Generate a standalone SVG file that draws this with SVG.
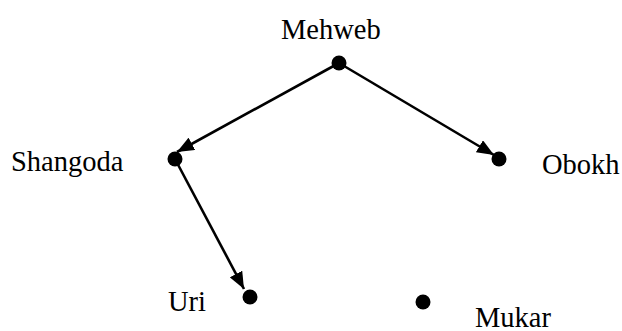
<svg xmlns="http://www.w3.org/2000/svg" width="622" height="331" viewBox="0 0 622 331">
<style>
text{font-family:"Liberation Serif","Times New Roman",serif;font-size:28.5px;fill:#000}
.dot{fill:#000}
.edge{stroke:#000;stroke-width:2.6;fill:none}
</style>
<defs>
<marker id="arr" markerUnits="userSpaceOnUse" markerWidth="18" markerHeight="14" refX="17" refY="7" orient="auto">
<path d="M0,0 L17,7 L0,14 z" fill="#000"/>
</marker>
</defs>
<rect width="622" height="331" fill="#fff"/>
<g id="connectors">
<path class="edge" d="M339,63 L177,152" marker-end="url(#arr)"/>
<path class="edge" d="M339,63 L494,155" marker-end="url(#arr)"/>
<path class="edge" d="M175,159 L244,289" marker-end="url(#arr)"/>
</g>
<g id="mehweb"><circle class="dot" cx="339" cy="63" r="7.5"/><text x="281" y="39">Mehweb</text></g>
<g id="shangoda"><circle class="dot" cx="175" cy="159" r="7.5"/><text x="11" y="171">Shangoda</text></g>
<g id="obokh"><circle class="dot" cx="499" cy="159" r="7.5"/><text x="542" y="174">Obokh</text></g>
<g id="uri"><circle class="dot" cx="250" cy="297" r="7.5"/><text x="168" y="311">Uri</text></g>
<g id="mukar"><circle class="dot" cx="423" cy="302" r="7.5"/><text x="475" y="326.5">Mukar</text></g>
</svg>
